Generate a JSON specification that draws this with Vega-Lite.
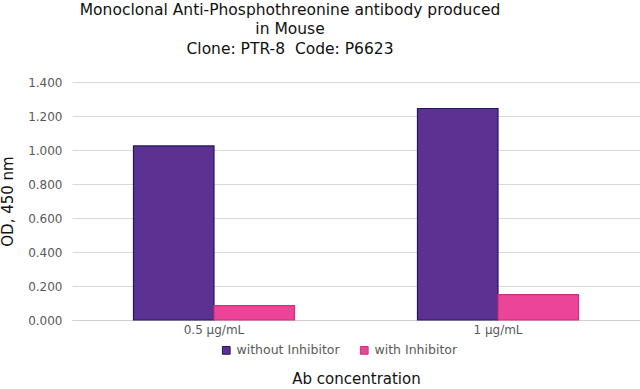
{
  "$schema": "https://vega.github.io/schema/vega-lite/v6.json",
  "width": 568,
  "height": 238,
  "autosize": {"type": "none"},
  "padding": {"left": 72, "top": 82, "right": 0, "bottom": 69},
  "background": "white",
  "config": {
    "font": "DejaVu Sans",
    "view": {"stroke": null}
  },
  "title": {
    "text": ["Monoclonal Anti-Phosphothreonine antibody produced", "in Mouse", "Clone: PTR-8\u00a0\u00a0Code: P6623"],
    "fontSize": 15.5,
    "fontWeight": "normal",
    "color": "#111111",
    "anchor": "middle",
    "dx": -66,
    "lineHeight": 19.5,
    "offset": 19
  },
  "data": {
    "values": [
      {"conc": "0.5 µg/mL", "group": "without Inhibitor", "od": 1.024},
      {"conc": "0.5 µg/mL", "group": "with Inhibitor", "od": 0.085},
      {"conc": "1 µg/mL", "group": "without Inhibitor", "od": 1.244},
      {"conc": "1 µg/mL", "group": "with Inhibitor", "od": 0.149}
    ]
  },
  "mark": {"type": "bar", "strokeWidth": 1.2},
  "encoding": {
    "x": {
      "field": "conc",
      "type": "nominal",
      "sort": ["0.5 µg/mL", "1 µg/mL"],
      "scale": {"paddingInner": 0.433, "paddingOuter": 0.2165},
      "axis": {
        "title": "Ab concentration",
        "titleFontSize": 15,
        "titleFontWeight": "normal",
        "titleColor": "#111111",
        "titleBaseline": "middle",
        "titleY": 58,
        "labelAngle": 0,
        "labelFontSize": 12,
        "labelColor": "#595959",
        "labelPadding": 4,
        "ticks": false,
        "domainColor": "#d0d0d0"
      }
    },
    "xOffset": {
      "field": "group",
      "type": "nominal",
      "sort": ["without Inhibitor", "with Inhibitor"],
      "scale": {"paddingInner": 0, "paddingOuter": 0}
    },
    "y": {
      "field": "od",
      "type": "quantitative",
      "scale": {"domain": [0, 1.4]},
      "axis": {
        "title": "OD, 450 nm",
        "titleFontSize": 15,
        "titleFontWeight": "normal",
        "titleColor": "#111111",
        "titlePadding": 12,
        "format": ".3f",
        "values": [0, 0.2, 0.4, 0.6, 0.8, 1.0, 1.2, 1.4],
        "labelOverlap": false,
        "labelFontSize": 12,
        "labelColor": "#595959",
        "labelPadding": 10,
        "ticks": false,
        "domain": false,
        "gridColor": "#d9d9d9"
      }
    },
    "fill": {
      "field": "group",
      "type": "nominal",
      "scale": {"domain": ["without Inhibitor", "with Inhibitor"], "range": ["#5B3291", "#EA4596"]},
      "legend": {
        "title": null,
        "orient": "none",
        "direction": "horizontal",
        "legendX": 148,
        "legendY": 262,
        "symbolType": "square",
        "symbolSize": 60,
        "labelFontSize": 12.5,
        "labelColor": "#595959",
        "columnPadding": 18,
        "symbolStrokeWidth": 1
      }
    },
    "stroke": {
      "field": "group",
      "type": "nominal",
      "scale": {"domain": ["without Inhibitor", "with Inhibitor"], "range": ["#24165e", "#d12e80"]},
      "legend": null
    }
  }
}
